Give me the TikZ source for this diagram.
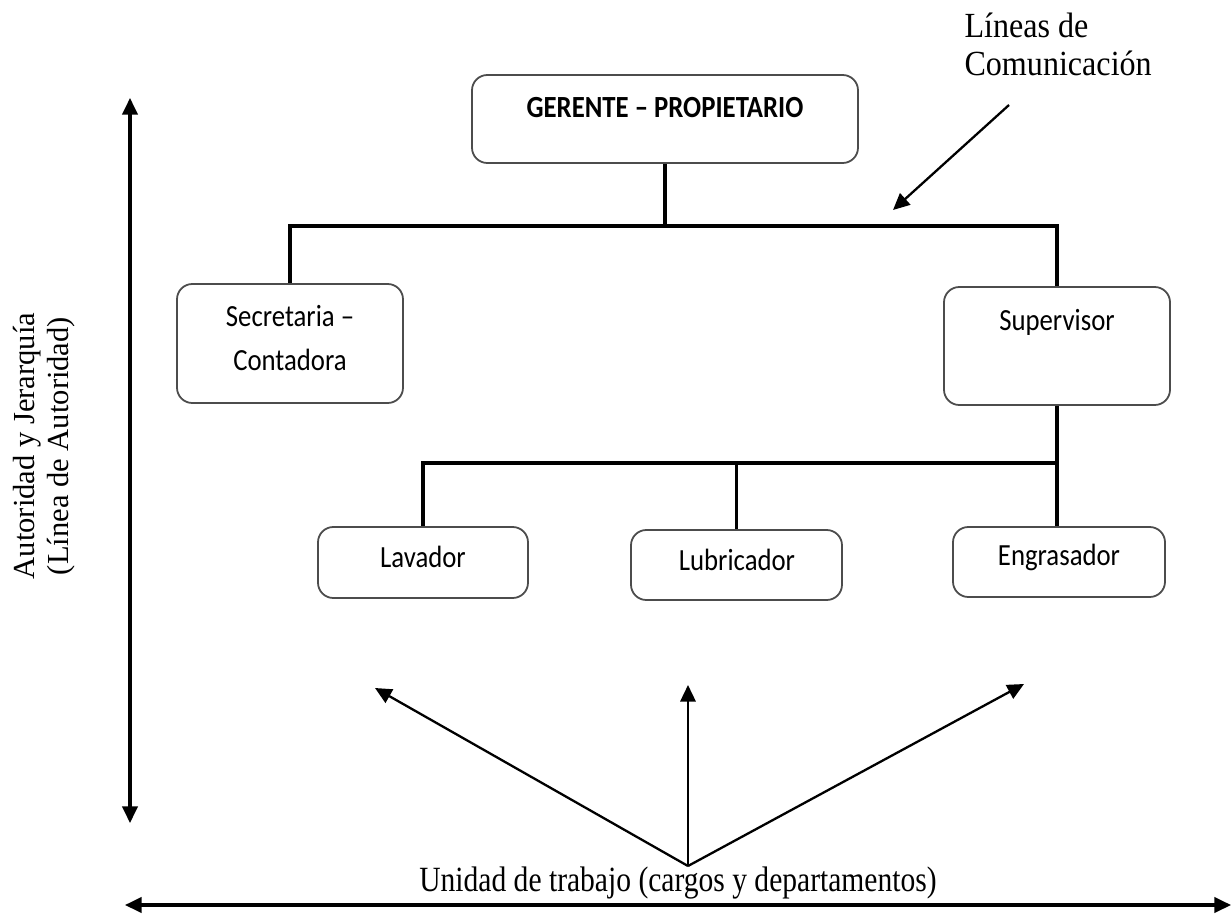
\documentclass[tikz,border=0pt]{standalone}
\usepackage{fontspec}
\setmainfont{Liberation Serif}
\newfontfamily\boxfont{Carlito}
\usetikzlibrary{arrows.meta, positioning, fit}

\tikzset{
    orgbox/.style={draw=black!70, line width=0.7pt, rounded corners=6pt, inner sep=0pt},
    boxlabel/.style={font=\boxfont\fontsize{10.5}{15}\selectfont, align=center, inner sep=0pt, yscale=1.15},
    treeline/.style={line width=1.3pt},
    notelabel/.style={font=\fontsize{12}{13.5}\selectfont, inner sep=0pt},
    notearrow/.style={line width=0.9pt, -{Triangle[length=6.5pt, width=6pt]}},
    axisarrow/.style={line width=1.2pt, {Triangle[length=6.5pt, width=6pt]}-{Triangle[length=6.5pt, width=6pt]}}
}

\begin{document}
\begin{tikzpicture}[x=0.0138cm, y=-0.0138cm]
\useasboundingbox (0,0) rectangle (1232,915);

% Gerente
\node[orgbox, fit={(472,75) (858,163)}] (ger) {};
\node[boxlabel, font=\boxfont\bfseries\fontsize{10.5}{15}\selectfont] (gertxt) at (665,108) {GERENTE \textendash{} PROPIETARIO};

% Segundo nivel
\node[orgbox, fit={(177,284) (403,403)}] (sec) {};
\node[boxlabel] (sectxt) at (290,338) {Secretaria \textendash\\Contadora};

\node[orgbox, fit={(944,287) (1170,405)}] (sup) {};
\node[boxlabel] (suptxt) at (1057,322) {Supervisor};

% Tercer nivel
\node[orgbox, fit={(318,527) (528,598)}] (lav) {};
\node[boxlabel] (lavtxt) at (423,557) {Lavador};

\node[orgbox, fit={(631,530) (842,600)}] (lub) {};
\node[boxlabel] (lubtxt) at (737,560) {Lubricador};

\node[orgbox, fit={(953,527) (1165,597)}] (eng) {};
\node[boxlabel] (engtxt) at (1059,557) {Engrasador};

% Lineas del organigrama
\coordinate (busA) at (ger.south |- 0,226);
\draw[treeline] (ger.south) -- (busA);
\draw[treeline] (sec.north) |- (busA) -| (sup.north);

\coordinate (busB) at (sup.south |- 0,463);
\draw[treeline] (sup.south) -- (sup.south |- eng.north);
\draw[treeline] (lav.north) |- (busB);
\draw[treeline] (lub.north) -- (lub.north |- busB);

% Lineas de comunicacion
\node[notelabel, font=\fontsize{12.6}{13.5}\selectfont, anchor=west, align=left, yscale=1.1] (comtxt) at (964,44) {L\'ineas de\\Comunicaci\'on};
\coordinate (comFrom) at (1009,105);
\coordinate (comTo) at (893,210);
\draw[notearrow] (comFrom) -- (comTo);

% Autoridad y jerarquia
\coordinate (autTop) at (130,98);
\coordinate (autBot) at (130,823);
\draw[axisarrow] (autTop) -- (autBot);
\node[notelabel, rotate=90, align=center] (auttxt) at (44,446) {Autoridad y Jerarqu\'ia\\(L\'inea de Autoridad)};

% Unidad de trabajo
\coordinate (uniL) at (125,905);
\coordinate (uniR) at (1231,905);
\draw[axisarrow] (uniL) -- (uniR);
\node[notelabel, font=\fontsize{11.6}{13.5}\selectfont, yscale=1.2] (unitxt) at (678,883) {Unidad de trabajo (cargos y departamentos)};

\coordinate (hub) at (688,866);
\coordinate (tipL) at (375,688);
\coordinate (tipM) at (688,685);
\coordinate (tipR) at (1024,684);
\foreach \t in {tipL,tipM,tipR}
{
    \draw[notearrow] (hub) -- (\t);
}

\end{tikzpicture}
\end{document}
